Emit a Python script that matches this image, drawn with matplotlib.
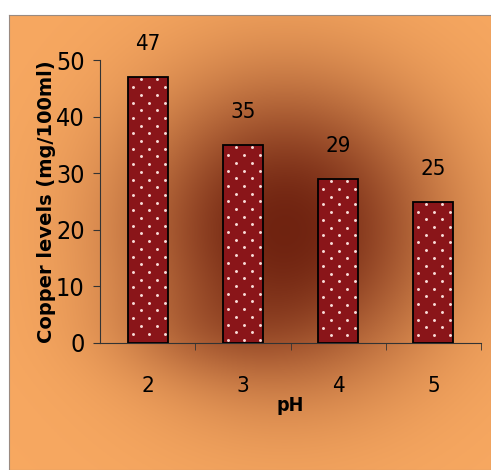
import matplotlib
matplotlib.use("Agg")
import matplotlib.pyplot as plt
import numpy as np

ph = ["2", "3", "4", "5"]
copper = [47, 35, 29, 25]

plt.rcParams["font.family"] = ["DejaVu Sans"]

W, H = 491, 470
fig = plt.figure(figsize=(W / 100, H / 100), dpi=100)
fig.patch.set_facecolor("white")

# orange panel with a dark brown glow behind the bars
x0, ytop = 9 / W, 15 / H
bg = fig.add_axes([x0, 0, 1 - x0, 1 - ytop])
gx, gy = np.meshgrid(np.linspace(9, W, 300), np.linspace(15, H, 300))
r = np.sqrt(((gx - 285) / 155) ** 2 + ((gy - 230) / 150) ** 2)
blob2 = np.exp(-((gx - 200) / 100) ** 2 - ((gy - 335) / 45) ** 2) * 0.12
w = np.clip(0.9 * np.exp(-r ** 2.2) + blob2, 0, 1)[..., None]
light = np.array([0.97, 0.66, 0.38])
dark = np.array([0.38, 0.08, 0.03])
bg.imshow(light * (1 - w) + dark * w, aspect="auto", extent=[0, 1, 0, 1])
bg.set_xticks([])
bg.set_yticks([])
for s in bg.spines.values():
    s.set_color("#9a8a80")
    s.set_linewidth(0.8)

cond = dict(fontstretch="condensed")
ax = fig.add_axes([100 / W, 1 - 343 / H, 381 / W, 283 / H])
ax.patch.set_alpha(0)
x = np.arange(1, len(ph) + 1)
bw = 0.42
ax.set_xlim(0.5, 4.5)
ax.set_ylim(0, 50)
ax.bar(x, copper, width=bw, color="#8a1519", linewidth=0, zorder=2)
ax.bar(x, copper, width=bw, fill=False, edgecolor="black", linewidth=1.3, zorder=4)

# staggered dot texture inside each bar (pixel spacing -> data units)
px_x = 4 / 381
px_y = 50 / 283
for xi, v in zip(x, copper):
    left = xi - bw / 2
    dx, dy = [], []
    row = 0
    yy = v - 2.5 * px_y
    while yy > 2 * px_y:
        start = 13 if row % 2 == 0 else 5
        for off in np.arange(start, bw / px_x - 2, 16):
            dx.append(left + off * px_x)
            dy.append(yy)
        yy -= 7.7 * px_y
        row += 1
    ax.scatter(dx, dy, s=4.5, color="#f8dcd8", linewidths=0, zorder=3)

for xi, v in zip(x, copper):
    ax.text(xi, v + 4, str(v), ha="center", va="bottom", fontsize=16, **cond)

ax.set_yticks(range(0, 51, 10))
ax.tick_params(axis="y", length=5, pad=6, color="#333333")
ax.set_xticks(x)
ax.set_xticklabels(ph)
ax.tick_params(axis="x", which="major", length=0, pad=24)
for lab in ax.get_yticklabels():
    lab.set_fontsize(18)
    lab.set_fontstretch("condensed")
for lab in ax.get_xticklabels():
    lab.set_fontsize(16)
    lab.set_fontstretch("condensed")
ax.set_xticks([1.5, 2.5, 3.5, 4.5], minor=True)
ax.tick_params(axis="x", which="minor", length=5, color="#333333")
for s in ["top", "right"]:
    ax.spines[s].set_visible(False)
for s in ["left", "bottom"]:
    ax.spines[s].set_color("#333333")
ax.set_xlabel("pH", fontsize=14, fontweight="bold", labelpad=0, **cond)
ax.set_ylabel("Copper levels (mg/100ml)", fontsize=14, fontweight="bold", labelpad=0)

fig.savefig("out.png", dpi=100)
